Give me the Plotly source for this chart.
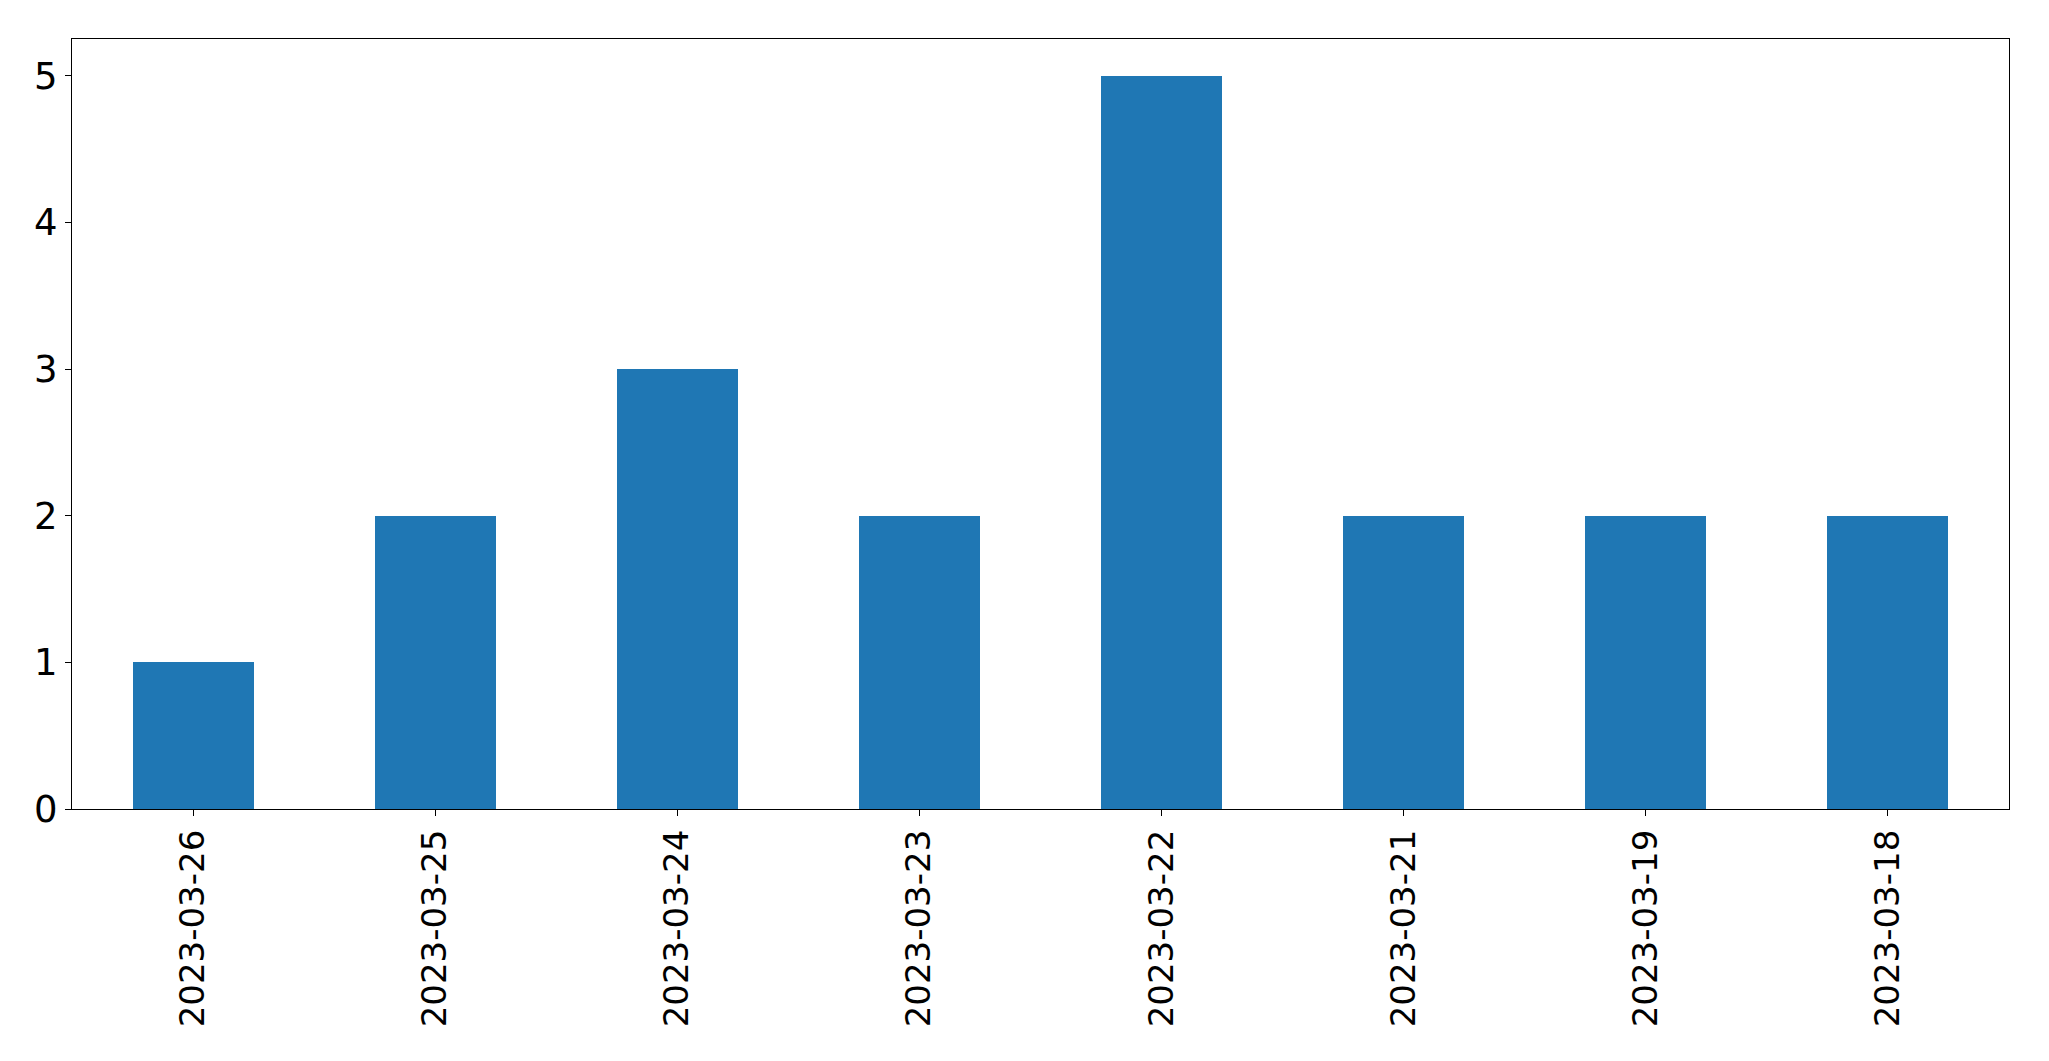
import plotly.graph_objects as go

dates = ["2023-03-26", "2023-03-25", "2023-03-24", "2023-03-23",
         "2023-03-22", "2023-03-21", "2023-03-19", "2023-03-18"]
counts = [1, 2, 3, 2, 5, 2, 2, 2]
y_ticks = [0, 1, 2, 3, 4, 5]

fig = go.Figure(go.Bar(x=dates, y=counts, width=0.5, marker=dict(color="#1f77b4", line=dict(width=0))))

fig.update_layout(
    width=2049, height=1061,
    margin=dict(l=64, r=48, t=31, b=260, autoexpand=False),
    paper_bgcolor="white", plot_bgcolor="white",
    font=dict(family="DejaVu Sans", size=34, color="black"),
    showlegend=False,
    bargap=0,
)
fig.update_xaxes(
    type="category", range=[-0.5, 7.5], tickangle=-90,
    showline=True, linecolor="black", linewidth=1.3, mirror=True,
    ticks="outside", ticklen=6, tickwidth=1.3, tickcolor="black",
    showgrid=False, zeroline=False, automargin=False,
)
fig.update_yaxes(
    range=[0, 5.25], tickvals=y_ticks, tickfont=dict(size=37),
    showline=True, linecolor="black", linewidth=1.3, mirror=True,
    ticks="outside", ticklen=6, tickwidth=1.3, tickcolor="black",
    showgrid=False, zeroline=False, automargin=False,
)
fig.write_html("out.html")
